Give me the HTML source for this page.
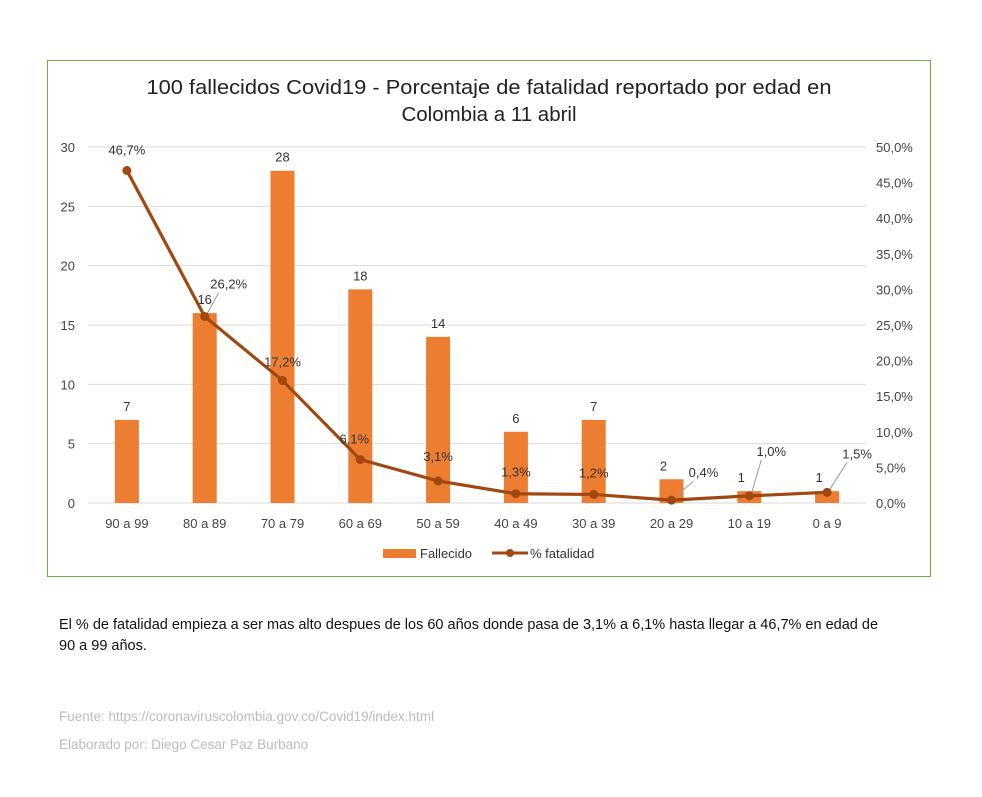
<!DOCTYPE html>
<html><head><meta charset="utf-8"><style>
body{margin:0;background:#fff;width:982px;height:797px;overflow:hidden;font-family:"Liberation Sans",sans-serif;}
#box{position:absolute;left:47px;top:60px;width:882px;height:515px;border:1.5px solid #70AD47;}
.t{position:absolute;left:59px;font-size:14.5px;color:#111;}
.g{position:absolute;left:59px;font-size:13.5px;color:#bbb;}
svg{position:absolute;left:0;top:0}
</style></head><body>
<div id="box"></div>
<svg id="c" width="982" height="600"></svg>
<div class="t" style="top:615px;line-height:21px;width:820px">El % de fatalidad empieza a ser mas alto despues de los 60 años donde pasa de 3,1% a 6,1% hasta llegar a 46,7% en edad de 90 a 99 años.</div>
<div class="g" style="top:709px">Fuente: https://coronaviruscolombia.gov.co/Covid19/index.html</div>
<div class="g" style="top:737px">Elaborado por: Diego Cesar Paz Burbano</div>
<script>
const categories=["90 a 99","80 a 89","70 a 79","60 a 69","50 a 59","40 a 49","30 a 39","20 a 29","10 a 19","0 a 9"];
const fallecidos=[7,16,28,18,14,6,7,2,1,1];
const fatalidad=[46.7,26.2,17.2,6.1,3.1,1.3,1.2,0.4,1.0,1.5];
const leftTicks=[0,5,10,15,20,25,30];
const rightTicks=[0,5,10,15,20,25,30,35,40,45,50];
const pctLabels=["46,7%","26,2%","17,2%","6,1%","3,1%","1,3%","1,2%","0,4%","1,0%","1,5%"];
const pctOff=[[0,-16],[24,-28],[0,-14],[-6,-16],[0,-20],[0,-17],[0,-17],[32,-23],[22,-40],[30,-34]];
const leaders=[false,true,false,false,false,false,false,true,true,true];
const X0=88,X1=866,Y0=503,Y1=147;
const ns="http://www.w3.org/2000/svg",svg=document.getElementById('c');
const bw=(X1-X0)/categories.length;
const xc=i=>X0+bw*(i+0.5);
const yL=v=>Y0-(Y0-Y1)*v/30;
const yR=v=>Y0-(Y0-Y1)*v/50;
function el(t,a,txt){const e=document.createElementNS(ns,t);for(const k in a)e.setAttribute(k,a[k]);if(txt!=null)e.textContent=txt;svg.appendChild(e);return e;}
let e;
e=el('text',{x:489,y:94,'text-anchor':'middle','font-size':20.5,fill:'#222',textLength:685,lengthAdjust:'spacingAndGlyphs'},'100 fallecidos Covid19 - Porcentaje de fatalidad reportado por edad en');


e=el('text',{x:489,y:121,'text-anchor':'middle','font-size':20.5,fill:'#222'},'Colombia a 11 abril');


leftTicks.forEach(v=>{
 e=el('line',{x1:X0,x2:X1,y1:yL(v),y2:yL(v),stroke:'#d9d9d9','stroke-width':1});
 
 
 e=el('text',{x:75,y:yL(v)+5,'text-anchor':'end','font-size':13,fill:'#444'},v);
 
 
});
rightTicks.forEach(v=>{
 e=el('text',{x:876,y:yR(v)+5,'font-size':13,fill:'#444'},v.toFixed(1).replace('.',',')+'%');
 
 
});
categories.forEach((c,i)=>{
 e=el('rect',{x:xc(i)-12,y:yL(fallecidos[i]),width:24,height:Y0-yL(fallecidos[i]),fill:'#ED7D31'});
 
 
 e=el('text',{x:xc(i)-(i>=7?8:0),y:yL(fallecidos[i])-9,'text-anchor':'middle','font-size':13,fill:'#333'},fallecidos[i]);
 
 
 e=el('text',{x:xc(i),y:528,'text-anchor':'middle','font-size':13,fill:'#444'},c);
 
 
});
e=el('polyline',{points:fatalidad.map((v,i)=>xc(i)+','+yR(v)).join(' '),fill:'none',stroke:'#A0480F','stroke-width':3.2});


fatalidad.forEach((v,i)=>{
 const x=xc(i),y=yR(v),lx=x+pctOff[i][0],ly=y+pctOff[i][1];
 if(leaders[i]){e=el('line',{x1:x+2,y1:y-2,x2:lx-10,y2:ly+4,stroke:'#999','stroke-width':1});
 
 }
 e=el('circle',{cx:x,cy:y,r:4.5,fill:'#A0480F'});
 
 
 e=el('text',{x:lx,y:ly,'text-anchor':'middle','font-size':13,fill:'#333'},pctLabels[i]);
 
 
});
e=el('rect',{x:383,y:549,width:33,height:9,fill:'#ED7D31'});


e=el('text',{x:420,y:558,'font-size':13,fill:'#333'},'Fallecido');


e=el('line',{x1:492,x2:528,y1:553,y2:553,stroke:'#A0480F','stroke-width':3});


e=el('circle',{cx:510,cy:553,r:4,fill:'#A0480F'});


e=el('text',{x:530,y:558,'font-size':13,fill:'#333'},'% fatalidad');


</script>
</body></html>
